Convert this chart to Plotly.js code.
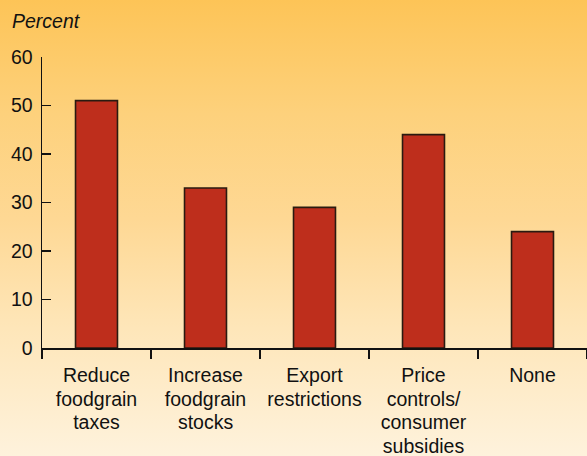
<!DOCTYPE html>
<html>
<head>
<meta charset="utf-8">
<script src="https://cdn.plot.ly/plotly-3.0.1.min.js"></script>
<style>
  html, body { margin: 0; padding: 0; }
  body {
    width: 587px; height: 456px; overflow: hidden;
    background: linear-gradient(to bottom, #fdc457 0%, #fdd17c 25%, #fed894 48%, #fee6b9 72%, #fef2dc 100%);
  }
  #chart { width: 587px; height: 456px; }
</style>
</head>
<body>
<div id="chart"></div>
<script>
// Share of countries using each policy response
const categories = [
  "Reduce<br>foodgrain<br>taxes",
  "Increase<br>foodgrain<br>stocks",
  "Export<br>restrictions",
  "Price<br>controls/<br>consumer<br>subsidies",
  "None"
];
const percentValues = [51, 33, 29, 44, 24];
const yTicks = [0, 10, 20, 30, 40, 50, 60];

const W = 587, H = 456;
const margin = { l: 42, r: 0, t: 57, b: 108 };
const plotW = W - margin.l - margin.r;
const plotH = H - margin.t - margin.b;

const font = { family: "Liberation Sans, Arial, sans-serif", size: 19.5, color: "#111" };

const trace = {
  type: "bar",
  x: categories,
  y: percentValues,
  marker: { color: "#be2e1c", line: { color: "#2a1a10", width: 1.6 } },
  hoverinfo: "none"
};

const layout = {
  width: W, height: H,
  margin: margin,
  paper_bgcolor: "rgba(0,0,0,0)",
  plot_bgcolor: "rgba(0,0,0,0)",
  font: font,
  showlegend: false,
  bargap: 0.615,
  xaxis: {
    type: "category",
    range: [-0.5, 4.5],
    showgrid: false,
    zeroline: false,
    showline: true,
    linecolor: "#111",
    linewidth: 1.5,
    ticks: "outside",
    tickson: "boundaries",
    ticklen: 9,
    tickwidth: 1.3,
    tickcolor: "#111",
    tickfont: font,
    ticklabelstandoff: 9,
    fixedrange: true
  },
  yaxis: {
    range: [0, 60],
    tickvals: yTicks,
    showgrid: false,
    zeroline: false,
    showline: true,
    linecolor: "#111",
    linewidth: 1.5,
    ticks: "inside",
    ticklen: 9,
    tickwidth: 1.3,
    tickcolor: "#111",
    tickfont: font,
    ticklabelstandoff: 4,
    fixedrange: true
  },
  annotations: [{
    text: "<i>Percent</i>",
    xref: "paper", yref: "paper",
    x: (10 - margin.l) / plotW, xanchor: "left",
    y: 1 + (margin.t - 8) / plotH, yanchor: "top",
    showarrow: false,
    font: { family: font.family, size: 19.5, color: "#111" }
  }]
};

// Tighter leading for the multi-line category labels
function tightenLabels(gd) {
  const scale = 1.215 / 1.3;
  gd.querySelectorAll(".xtick text tspan.line").forEach(function (t) {
    const dy = t.getAttribute("dy");
    if (dy && /em$/.test(dy)) {
      const v = parseFloat(dy);
      if (v > 0) t.setAttribute("dy", (v * scale).toFixed(4) + "em");
    }
  });
}

Plotly.newPlot("chart", [trace], layout, { displayModeBar: false, staticPlot: true })
  .then(function (gd) { tightenLabels(gd); });
</script>
</body>
</html>
